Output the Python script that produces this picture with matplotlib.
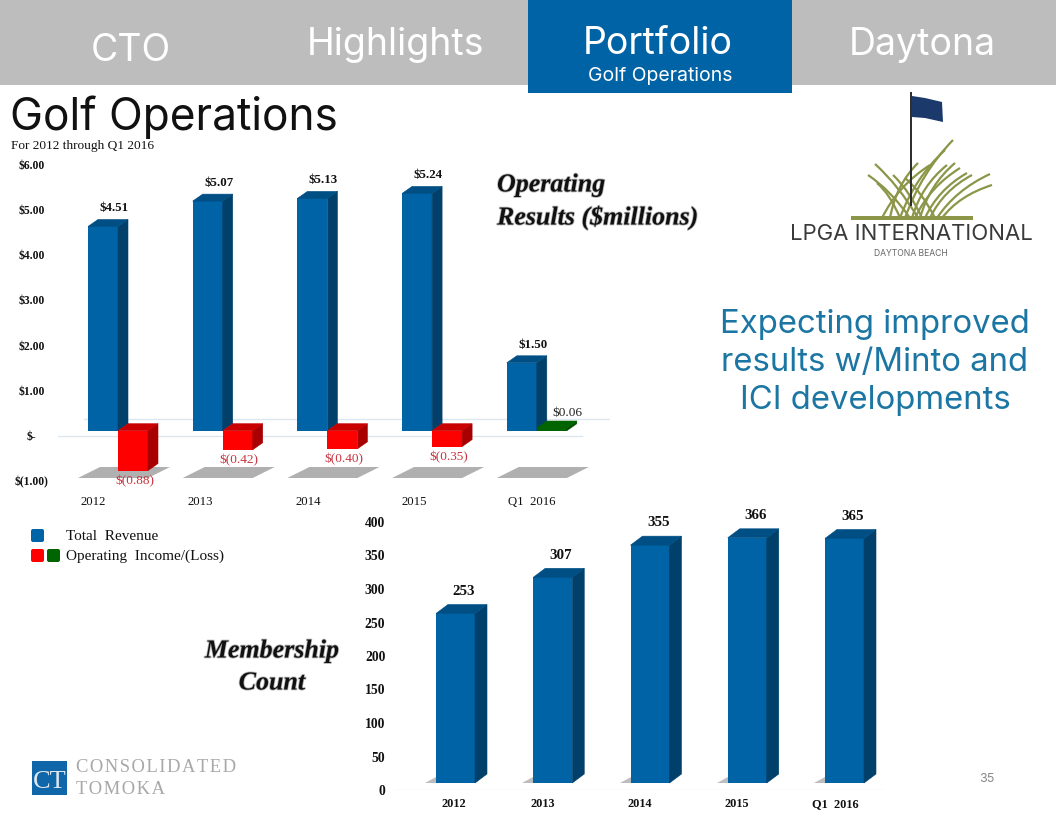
import matplotlib
matplotlib.use('Agg')
import matplotlib.pyplot as plt
import matplotlib.patheffects as pe
from matplotlib.patches import Polygon, Rectangle, FancyBboxPatch, PathPatch
from matplotlib.path import Path

W = 1056
H = 816

periods = ['2012', '2013', '2014', '2015', 'Q1  2016']
revenue = [4.51, 5.07, 5.13, 5.24, 1.50]
income = [-0.88, -0.42, -0.40, -0.35, 0.06]
revenue_labels = ['$4.51', '$5.07', '$5.13', '$5.24', '$1.50']
income_labels = ['$(0.88)', '$(0.42)', '$(0.40)', '$(0.35)', '$0.06']
money_ticks = [-1, 0, 1, 2, 3, 4, 5, 6]
money_tick_labels = ['$(1.00)', '$-', '$1.00', '$2.00', '$3.00', '$4.00', '$5.00', '$6.00']

members = [253, 307, 355, 366, 365]
member_ticks = [0, 50, 100, 150, 200, 250, 300, 350, 400]

tabs = ['CTO', 'Highlights', 'Portfolio', 'Daytona']

BLUE = ('#0063a6', '#00406b', '#004f84')
RED = ('#ff0000', '#a80000', '#c80000')
GREEN = ('#006400', '#004d00', '#006400')
SERIF = 'Liberation Serif'
SANS = 'Inter'


def px_axes(fig, left, right, top, bottom):
    ax = fig.add_axes([left / W, 1 - bottom / H, (right - left) / W, (bottom - top) / H])
    ax.patch.set_alpha(0)
    for s in ax.spines.values():
        s.set_visible(False)
    return ax


def bar3d(ax, x, value, width, dx, dy, lift, colors):
    # front face goes through the axes scale, side and top are just offset from it
    ax.bar(x, value, width, bottom=lift, color=colors[0], linewidth=0, clip_on=False)
    l = x - width / 2
    r = x + width / 2
    top = max(lift, lift + value)
    bot = min(lift, lift + value)
    ax.add_patch(Polygon([(r, bot), (r, top), (r + dx, top + dy), (r + dx, bot + dy)],
                         facecolor=colors[1], edgecolor=colors[1], linewidth=0.4, clip_on=False))
    ax.add_patch(Polygon([(l, top), (r, top), (r + dx, top + dy), (l + dx, top + dy)],
                         facecolor=colors[2], edgecolor=colors[2], linewidth=0.4, clip_on=False))


def draw_money_chart(fig):
    ax = px_axes(fig, 58, 610, 164, 481)
    step = 104.7
    ax.set_ylim(-1, 6)
    ax.set_xlim((58 - 118) / step, (610 - 118) / step)
    unit = 317 / 7
    width = 30 / step
    dx = 10 / step
    dy = 7 / unit
    lift = 5 / unit

    # floor lines
    ax.axhline(0, xmin=0, xmax=0.95, color='#dde7f0', linewidth=1, zorder=0)
    ax.axhline(17 / unit, xmin=0.047, xmax=1, color='#dde7f0', linewidth=1, zorder=0)

    for i in range(len(periods)):
        # grey shadow under each pair of bars
        sx = i + (78 - 118) / step
        sy = -1 + 3 / unit
        ax.add_patch(Polygon([(sx, sy), (sx + 70 / step, sy), (sx + 92 / step, sy + 11 / unit),
                              (sx + 22 / step, sy + 11 / unit)],
                             facecolor='#b0b0b0', linewidth=0, clip_on=False, zorder=1))
        bar3d(ax, i - width / 2, revenue[i], width, dx, dy, lift, BLUE)
        colors = RED if income[i] < 0 else GREEN
        bar3d(ax, i + width / 2, income[i], width, dx, dy, lift, colors)

        ax.annotate(revenue_labels[i], (i - width / 2, revenue[i] + lift), xytext=(8, 13),
                    textcoords='offset points', ha='center', va='center',
                    fontfamily=SERIF, fontweight='bold', fontsize=9.3, color='#111111',
                    annotation_clip=False)
        if income[i] < 0:
            ax.annotate(income_labels[i], (i + width / 2, income[i] + lift), xytext=(1, -7.5),
                        textcoords='offset points', ha='center', va='center',
                        fontfamily=SERIF, fontsize=9.5, color='#c8323c', annotation_clip=False)
        else:
            ax.annotate(income_labels[i], (i + width / 2, income[i] + lift), xytext=(11, 11),
                        textcoords='offset points', ha='center', va='center',
                        fontfamily=SERIF, fontsize=9.5, color='#222222', annotation_clip=False)

    ax.set_yticks(money_ticks)
    ax.set_yticklabels(money_tick_labels, fontfamily=SERIF, fontweight='bold', fontsize=8.4,
                       ha='center', color='#111111')
    ax.tick_params(axis='y', length=0, pad=19)

    # the category labels sit a little off the bars in the reference
    ax.set_xticks([(p - 118) / step for p in (93, 200, 308, 414, 532)])
    ax.set_xticklabels(periods, fontfamily=SERIF, fontsize=9.2, color='#111111')
    ax.tick_params(axis='x', length=0, pad=10.5)


def draw_member_chart(fig):
    ax = px_axes(fig, 395, 883, 522, 790)
    step = 97.25
    ax.set_ylim(0, 400)
    ax.set_xlim((395 - 455.5) / step, (883 - 455.5) / step)
    unit = 268 / 400
    width = 39 / step
    dx = 12 / step
    dy = 9 / unit
    lift = 7 / unit

    ax.axhline(0, color='#dde7f0', linewidth=1, zorder=0)
    for i in range(len(periods)):
        l = i - width / 2
        ax.add_patch(Polygon([(l - 11 / step, lift), (l, lift), (l, lift + 6 / unit)],
                             facecolor='#bdbdbd', linewidth=0, clip_on=False))
        bar3d(ax, i, members[i], width, dx, dy, lift, BLUE)
        ax.annotate(str(members[i]), (i, members[i] + lift), xytext=(6, 16),
                    textcoords='offset points', ha='center', va='center',
                    fontfamily=SERIF, fontweight='bold', fontsize=10.8, color='#111111',
                    annotation_clip=False)

    ax.set_yticks(member_ticks)
    ax.set_yticklabels([str(t) for t in member_ticks], fontfamily=SERIF, fontweight='bold',
                       fontsize=9.8, color='#111111')
    ax.tick_params(axis='y', length=0, pad=7)
    ax.set_xticks([(p - 455.5) / step for p in (454, 543, 640, 737, 835)])
    ax.set_xticklabels(periods, fontfamily=SERIF, fontweight='bold', fontsize=8.8, color='#111111')
    ax.tick_params(axis='x', length=0, pad=6)


def draw_header(bg):
    bg.add_patch(Rectangle((0, 0), W, 85, facecolor='#bdbdbd', linewidth=0))
    bg.add_patch(Rectangle((528, 0), 264, 93, facecolor='#0063a6', linewidth=0))
    spots = [(131, 61), (395, 55), (658, 54), (922, 55)]
    for name, (x, y) in zip(tabs, spots):
        bg.text(x, y, name, color='white', fontfamily=SANS, fontsize=27, ha='center', va='baseline')
    bg.text(660, 81, 'Golf Operations', color='white', fontfamily=SANS, fontsize=14,
            ha='center', va='baseline')
    bg.text(10, 130, 'Golf Operations', color='#111111', fontfamily=SANS, fontsize=31.8,
            ha='left', va='baseline')
    bg.text(11, 149, 'For 2012 through Q1 2016', color='#111111', fontfamily=SERIF, fontsize=9.6,
            ha='left', va='baseline')


def draw_notes(bg):
    for x, y, txt, ha in [(497, 185, 'Operating', 'left'), (497, 218, 'Results ($millions)', 'left'),
                          (272, 651, 'Membership', 'center'), (272, 683, 'Count', 'center')]:
        t = bg.text(x, y, txt, fontfamily=SERIF, fontweight='bold', fontstyle='italic', fontsize=18.7,
                    color='#111111', ha=ha, va='center')
        t.set_path_effects([pe.withStroke(linewidth=1.2, foreground='#bbbbbb')])

    for y, txt in [(333, 'Expecting improved'), (371, 'results w/Minto and'), (409, 'ICI developments')]:
        bg.text(875, y, txt, fontfamily=SANS, fontsize=23.7, color='#1b76a3', ha='center', va='baseline')

    bg.text(987, 779, '35', fontfamily=SANS, fontsize=9, color='#8a8a8a', ha='center', va='center')


def draw_legend(bg):
    for x, y, c in [(31, 529, '#0063a6'), (31, 549, '#ff0000'), (47, 549, '#006400')]:
        bg.add_patch(FancyBboxPatch((x + 2, y + 2), 9, 9, boxstyle='round,pad=2', facecolor=c, linewidth=0))
    bg.text(66, 536, 'Total  Revenue', fontfamily=SERIF, fontsize=11, color='#111111', va='center')
    bg.text(66, 556, 'Operating  Income/(Loss)', fontfamily=SERIF, fontsize=11, color='#111111', va='center')


def draw_lpga_logo(bg):
    olive = '#8b9648'
    tips = [(953, 140), (947, 165), (955, 163), (967, 173), (972, 175), (990, 174), (992, 185),
            (918, 163), (875, 164), (868, 175), (893, 175), (877, 183), (945, 150), (960, 168),
            (930, 165), (905, 178)]
    roots = [(905, 218), (912, 218), (920, 218), (925, 218), (930, 218), (937, 218), (942, 218),
             (890, 218), (918, 218), (910, 218), (922, 218), (900, 218), (900, 218), (915, 218),
             (882, 218), (935, 218)]
    for tip, root in zip(tips, roots):
        ctrl = ((root[0] + tip[0]) / 2 + (2 if tip[0] < root[0] else -8), (root[1] + tip[1]) / 2 - 6)
        path = Path([root, ctrl, tip], [Path.MOVETO, Path.CURVE3, Path.CURVE3])
        bg.add_patch(PathPatch(path, facecolor='none', edgecolor=olive, linewidth=1.6))
    bg.plot([911, 911], [93, 205], color='#2a2a2a', linewidth=1.4)
    bg.add_patch(Polygon([(912, 96), (925, 98), (942, 102), (943, 122), (925, 118), (912, 117)],
                         facecolor='#1b3a6b', linewidth=0))
    bg.add_patch(Rectangle((851, 216), 122, 3.5, facecolor=olive, linewidth=0))
    bg.text(911.5, 240, 'LPGA INTERNATIONAL', fontfamily=SANS, fontsize=15.9, color='#3a3a3c',
            ha='center', va='baseline')
    bg.text(911, 256, 'DAYTONA BEACH', fontfamily=SANS, fontsize=6.2, color='#666666',
            ha='center', va='baseline')


def draw_ct_logo(bg):
    bg.add_patch(Rectangle((32, 761), 35, 34, facecolor='#0f66a8', linewidth=0))
    bg.text(49.5, 782, 'CT', fontfamily=SERIF, fontsize=19, color='#dfe8ef', ha='center', va='center')
    bg.text(76, 767, '\u200a'.join('CONSOLIDATED'), fontfamily=SERIF, fontsize=13.4,
            color='#a8a8a8', ha='left', va='center')
    bg.text(76, 789, '\u200a'.join('TOMOKA'), fontfamily=SERIF, fontsize=13.4,
            color='#a8a8a8', ha='left', va='center')


def main():
    fig = plt.figure(figsize=(W / 100, H / 100), dpi=100, facecolor='white')
    bg = fig.add_axes([0, 0, 1, 1])
    bg.set_xlim(0, W)
    bg.set_ylim(H, 0)
    bg.axis('off')

    draw_header(bg)
    draw_notes(bg)
    draw_legend(bg)
    draw_lpga_logo(bg)
    draw_ct_logo(bg)
    draw_money_chart(fig)
    draw_member_chart(fig)

    fig.savefig('out.png', dpi=100)


if __name__ == '__main__':
    main()
